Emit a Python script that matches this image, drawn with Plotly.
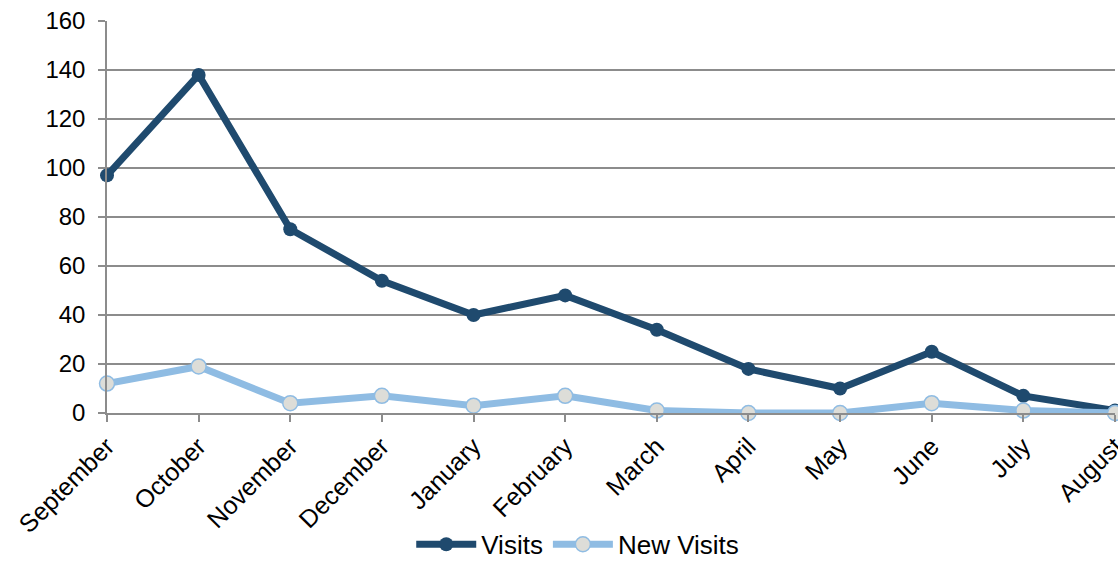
import plotly.graph_objects as go

months = ["September", "October", "November", "December", "January", "February",
          "March", "April", "May", "June", "July", "August"]
visits = [97, 138, 75, 54, 40, 48, 34, 18, 10, 25, 7, 1]
new_visits = [12, 19, 4, 7, 3, 7, 1, 0, 0, 4, 1, 0]
y_ticks = [0, 20, 40, 60, 80, 100, 120, 140, 160]

fig = go.Figure()
fig.add_trace(go.Scatter(
    x=months, y=visits, name="Visits", mode="lines+markers",
    line=dict(color="#1F4A6E", width=7),
    marker=dict(size=14, color="#1F4A6E", line=dict(width=0)),
    cliponaxis=False,
))
fig.add_trace(go.Scatter(
    x=months, y=new_visits, name="New Visits", mode="lines+markers",
    line=dict(color="#8FBCE3", width=7),
    marker=dict(size=15, color="#DDDDD8", line=dict(width=1.5, color="#8FBCE3")),
    cliponaxis=False,
))

fig.update_layout(
    width=1118, height=561,
    margin=dict(l=107, r=3, t=21, b=148, autoexpand=False),
    paper_bgcolor="white", plot_bgcolor="white",
    font=dict(family="Liberation Sans, Arial, sans-serif", size=24, color="#000"),
    showlegend=True,
    legend=dict(orientation="h", x=0.467, xanchor="center", y=-0.335, yanchor="middle",
                font=dict(size=26), itemwidth=60, tracegroupgap=0),
)
fig.update_xaxes(
    type="category", range=[0, len(months) - 1], automargin=False,
    tickangle=-45, ticks="outside", ticklen=7, tickcolor="#8C8C8C", tickwidth=1.5,
    showline=True, linecolor="#8C8C8C", linewidth=1.5, showgrid=False,
    tickfont=dict(size=25),
)
fig.update_yaxes(
    range=[0, 160], tickvals=y_ticks, ticks="outside", ticklen=7, automargin=False,
    tickcolor="#8C8C8C", tickwidth=1.5, ticklabelstandoff=8,
    showline=True, linecolor="#8C8C8C", linewidth=1.5,
    showgrid=True, gridcolor="#8C8C8C", gridwidth=1.5, zeroline=False,
    tickfont=dict(size=24),
)

fig.write_html("out.html", config={"displayModeBar": False},
               post_script="document.body.style.margin='0';document.body.style.overflow='hidden';")
